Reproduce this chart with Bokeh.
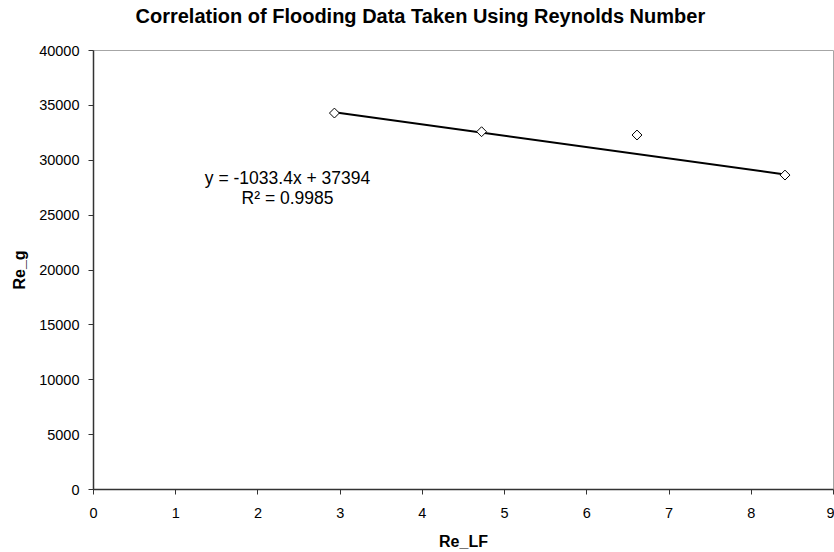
import numpy as np
from bokeh.plotting import figure
from bokeh.models import Range1d, FixedTicker, Label, Title
from bokeh.embed import file_html
from bokeh.resources import INLINE

# Data
re_lf = [2.93, 4.72, 6.61, 8.41]
re_g = [34300, 32600, 32300, 28650]
slope = -1033.4
intercept = 37394
r_squared = 0.9985
x_ticks = [0, 1, 2, 3, 4, 5, 6, 7, 8, 9]
y_ticks = [0, 5000, 10000, 15000, 20000, 25000, 30000, 35000, 40000]
title_text = "Correlation of Flooding Data Taken Using Reynolds Number"

FONT = "Liberation Sans"

p = figure(width=834, height=552, output_backend="svg", toolbar_location=None,
           x_range=Range1d(0, 9), y_range=Range1d(0, 40000),
           min_border_left=93, min_border_right=1, min_border_top=49, min_border_bottom=60)
p.title = None
# blank spacer nearest the plot area, then the real title above it
p.add_layout(Title(text=" ", text_font=FONT, text_font_size="10px",
                   standoff=5), "above")
p.add_layout(Title(text=title_text, text_font=FONT, text_font_size="20px",
                   text_font_style="bold", text_color="black",
                   align="left", vertical_align="top", offset=42, standoff=8), "above")

p.grid.visible = False
p.background_fill_color = "white"
p.border_fill_color = "white"
p.outline_line_color = "#a6a6a6"
p.outline_line_width = 1

for ax in (p.xaxis, p.yaxis):
    ax.axis_line_color = "#333333"
    ax.axis_line_width = 1.5
    ax.major_tick_line_color = "#333333"
    ax.major_tick_out = 5
    ax.major_tick_in = 0
    ax.minor_tick_line_color = None
    ax.major_label_text_font = FONT
    ax.major_label_text_font_size = "14.5px"
    ax.major_label_text_color = "black"
    ax.axis_label_text_font = FONT
    ax.axis_label_text_font_size = "16px"
    ax.axis_label_text_font_style = "bold"
    ax.axis_label_text_color = "black"

p.xaxis.ticker = FixedTicker(ticks=x_ticks)
p.yaxis.ticker = FixedTicker(ticks=y_ticks)
p.xaxis.axis_label = "Re_LF"
p.yaxis.axis_label = "Re_g"
p.xaxis.major_label_standoff = 13
p.yaxis.major_label_standoff = 9
p.xaxis.axis_label_standoff = 12
p.yaxis.axis_label_standoff = 8

# Trendline from fit coefficients across data range
xl = np.array([min(re_lf), max(re_lf)])
p.line(xl, slope * xl + intercept, line_color="black", line_width=2)

p.scatter(re_lf, re_g, marker="square", angle=np.pi / 4, size=7,
          fill_color="white", line_color="black", line_width=1)

p.add_layout(Label(x=2.36, y=28380, text=f"y = {slope}x + {intercept}",
                   text_font=FONT, text_font_size="17.5px", text_color="black",
                   text_align="center", text_baseline="middle"))
p.add_layout(Label(x=2.36, y=26550, text=f"R² = {r_squared}",
                   text_font=FONT, text_font_size="17.5px", text_color="black",
                   text_align="center", text_baseline="middle"))

open("out.html", "w").write(file_html(p, INLINE))
